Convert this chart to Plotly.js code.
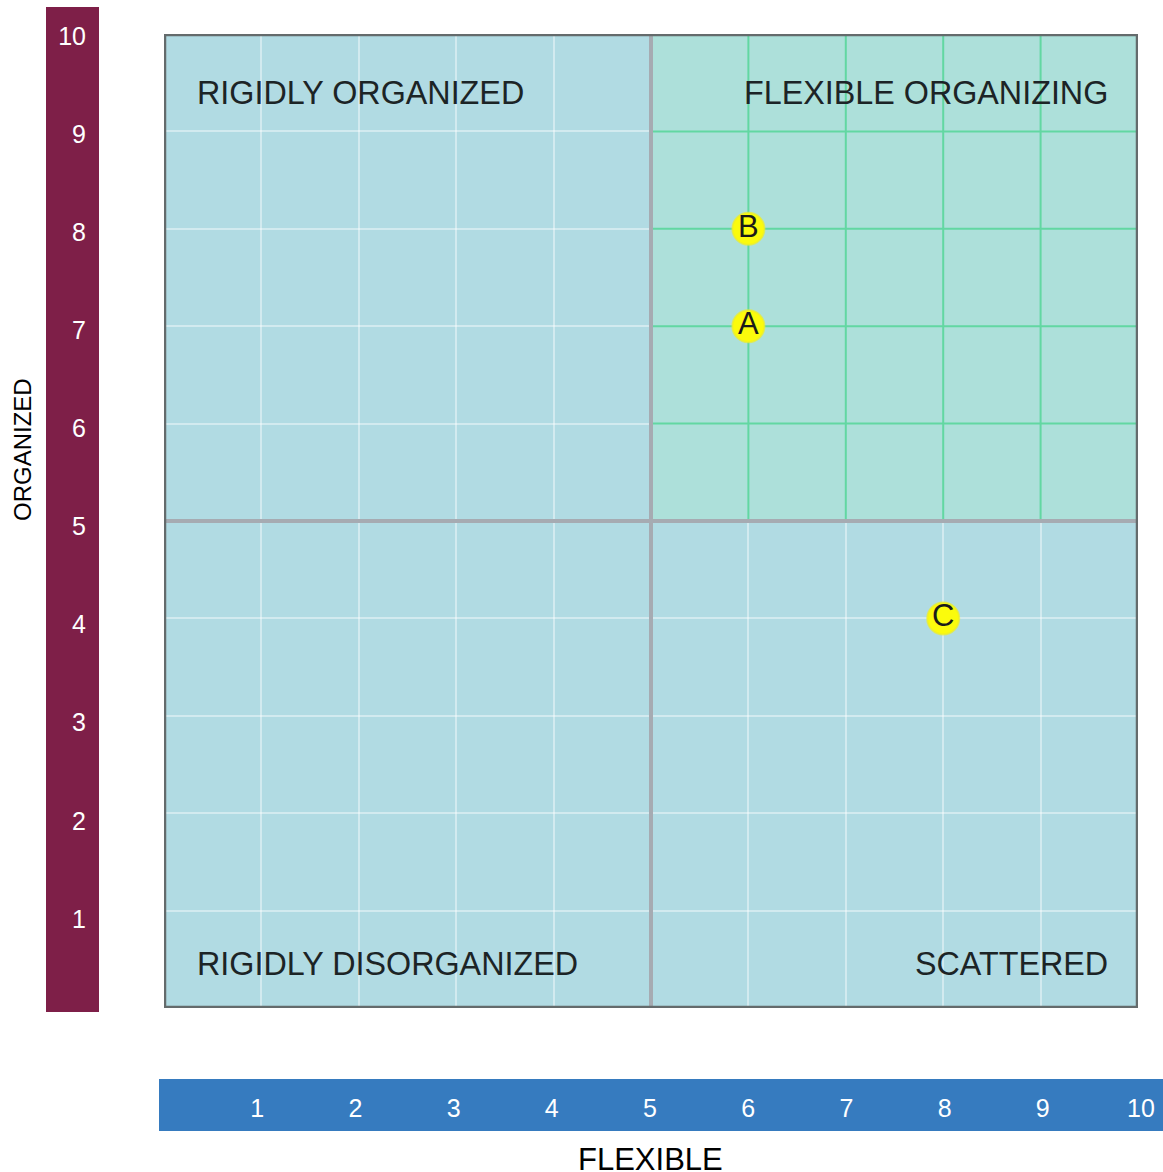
<!DOCTYPE html>
<html>
<head>
<meta charset="utf-8">
<script src="https://cdn.plot.ly/plotly-3.0.1.min.js"></script>
<style>html,body{margin:0;padding:0;background:#fff;}#chart{width:1163px;height:1172px;}</style>
</head>
<body>
<div id="chart"></div>
<script>
// ---- data ----
const tickValues = [1, 2, 3, 4, 5, 6, 7, 8, 9, 10];
const tickLabels = ['1', '2', '3', '4', '5', '6', '7', '8', '9', '10'];
const pointLabels = ['A', 'B', 'C'];
const flexibleScore = [6, 6, 8];
const organizedScore = [7, 8, 4];
const quadrantNames = ['RIGIDLY ORGANIZED', 'FLEXIBLE ORGANIZING', 'RIGIDLY DISORGANIZED', 'SCATTERED'];
const xAxisName = 'FLEXIBLE';
const yAxisName = 'ORGANIZED';

// ---- layout helpers ----
const W = 1163, H = 1172;
const px = v => v / W;
const py = v => 1 - v / H;
const FONT = 'Liberation Sans, Arial, sans-serif';

const minVal = 0;
const midVal = tickValues[4], maxVal = tickValues[tickValues.length - 1];

const shapes = [];
// paper-level coloured axis bars
shapes.push({type: 'rect', xref: 'paper', yref: 'paper', x0: px(46), x1: px(99), y0: py(1012), y1: py(7),
  fillcolor: '#7e1f48', line: {width: 0}, layer: 'below'});
shapes.push({type: 'rect', xref: 'paper', yref: 'paper', x0: px(159), x1: px(1163), y0: py(1131), y1: py(1079),
  fillcolor: '#367bbf', line: {width: 0}, layer: 'below'});
// plot background
shapes.push({type: 'rect', xref: 'x', yref: 'y', x0: minVal, x1: maxVal, y0: minVal, y1: maxVal,
  fillcolor: '#b1dbe3', line: {width: 0}, layer: 'below'});
// upper-right quadrant
shapes.push({type: 'rect', xref: 'x', yref: 'y', x0: midVal, x1: maxVal, y0: midVal, y1: maxVal,
  fillcolor: '#ade0da', line: {width: 0}, layer: 'between'});
tickValues.filter(t => t > midVal).forEach(t => {
  shapes.push({type: 'line', xref: 'x', yref: 'y', x0: t, x1: t, y0: midVal, y1: maxVal,
    line: {color: '#62d7a2', width: 2}, layer: 'between'});
  shapes.push({type: 'line', xref: 'x', yref: 'y', x0: midVal, x1: maxVal, y0: t, y1: t,
    line: {color: '#62d7a2', width: 2}, layer: 'between'});
});
// centre dividers
shapes.push({type: 'line', xref: 'x', yref: 'y', x0: midVal, x1: midVal, y0: minVal, y1: maxVal,
  line: {color: '#a6abb2', width: 4}, layer: 'between'});
shapes.push({type: 'line', xref: 'x', yref: 'y', x0: minVal, x1: maxVal, y0: midVal, y1: midVal,
  line: {color: '#a6abb2', width: 4}, layer: 'between'});
// frame
shapes.push({type: 'rect', xref: 'x', yref: 'y', x0: minVal, x1: maxVal, y0: minVal, y1: maxVal,
  fillcolor: 'rgba(0,0,0,0)', line: {color: '#646b6c', width: 4.5}, layer: 'above'});

const qFont = {family: FONT, size: 32.3, color: '#1c2426'};
const annotations = [
  {text: quadrantNames[0], xref: 'x', yref: 'y', x: 0.32, y: 9.39, xanchor: 'left', yanchor: 'middle', showarrow: false, font: qFont},
  {text: quadrantNames[1], xref: 'x', yref: 'y', x: 9.71, y: 9.39, xanchor: 'right', yanchor: 'middle', showarrow: false, font: qFont},
  {text: quadrantNames[2], xref: 'x', yref: 'y', x: 0.32, y: 0.45, xanchor: 'left', yanchor: 'middle', showarrow: false, font: qFont},
  {text: quadrantNames[3], xref: 'x', yref: 'y', x: 9.71, y: 0.45, xanchor: 'right', yanchor: 'middle', showarrow: false, font: qFont},
  {text: yAxisName, xref: 'paper', yref: 'paper', x: px(22), y: py(450), xanchor: 'center', yanchor: 'middle',
    textangle: -90, showarrow: false, font: {family: FONT, size: 24, color: '#000'}},
  {text: xAxisName, xref: 'x2 domain', yref: 'paper', x: 0.5, y: py(1140), xanchor: 'center', yanchor: 'top',
    showarrow: false, font: {family: FONT, size: 31, color: '#000'}}
];

const traces = [
  {
    type: 'scatter', mode: 'markers+text', x: flexibleScore, y: organizedScore, text: pointLabels,
    textposition: 'middle center', xaxis: 'x', yaxis: 'y', hoverinfo: 'none',
    marker: {size: 32, color: '#fbfb0c', line: {color: 'rgba(238,238,40,0.7)', width: 2}},
    textfont: {family: FONT, size: 31, color: '#1a1a1a'}
  },
  // carrier for the two scale bars' axes (no visible marks)
  {type: 'scatter', mode: 'none', x: [], y: [], xaxis: 'x2', yaxis: 'y2', hoverinfo: 'skip', showlegend: false}
];

const layout = {
  width: W, height: H,
  margin: {l: 0, r: 0, t: 0, b: 0},
  paper_bgcolor: '#ffffff', plot_bgcolor: 'rgba(0,0,0,0)',
  showlegend: false,
  font: {family: FONT},
  xaxis: {domain: [px(164), px(1138)], range: [0, 10], tickvals: tickValues, showticklabels: false,
    showgrid: true, gridcolor: 'rgba(255,255,255,0.42)', gridwidth: 2, zeroline: false, showline: false,
    ticks: '', anchor: 'y', fixedrange: true},
  yaxis: {domain: [py(1008), py(34)], range: [0, 10], tickvals: tickValues, showticklabels: false,
    showgrid: true, gridcolor: 'rgba(255,255,255,0.42)', gridwidth: 2, zeroline: false, showline: false,
    ticks: '', anchor: 'x', fixedrange: true},
  xaxis2: {domain: [px(159), px(1141)], range: [0, 10], anchor: 'free', position: py(1091), side: 'bottom',
    tickvals: tickValues, ticktext: tickLabels, tickfont: {family: FONT, size: 25, color: '#ffffff'},
    showgrid: false, zeroline: false, showline: false, ticks: '', fixedrange: true},
  yaxis2: {domain: [py(1017), py(36)], range: [0, 10], anchor: 'free', position: px(86), side: 'left',
    tickvals: tickValues, ticktext: tickLabels, tickfont: {family: FONT, size: 25, color: '#ffffff'},
    showgrid: false, zeroline: false, showline: false, ticks: '', fixedrange: true},
  shapes: shapes,
  annotations: annotations
};

Plotly.newPlot('chart', traces, layout, {displayModeBar: false, staticPlot: true});
</script>
</body>
</html>
